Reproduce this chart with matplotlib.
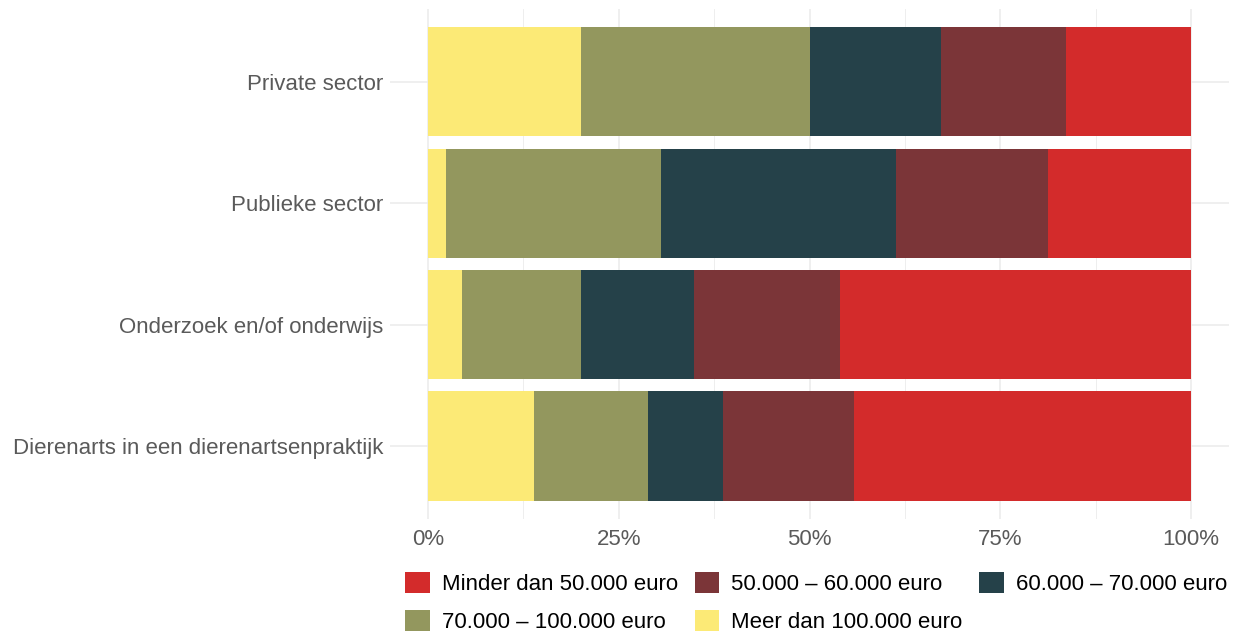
import numpy as np
import matplotlib.pyplot as plt

plt.rcParams['font.family'] = ['Liberation Sans', 'DejaVu Sans']

# categories top to bottom
sectors = ["Private sector", "Publieke sector", "Onderzoek en/of onderwijs",
           "Dierenarts in een dierenartsenpraktijk"]

# shares (%) per income class, same order as sectors
meer_100 = [20.0, 2.4, 4.5, 13.9]
k70_100 = [30.0, 28.1, 15.6, 14.9]
k60_70 = [17.2, 30.8, 14.8, 9.8]
k50_60 = [16.4, 20.0, 19.1, 17.2]
minder_50 = [16.4, 18.7, 46.0, 44.2]

labels = ["Meer dan 100.000 euro", "70.000 – 100.000 euro", "60.000 – 70.000 euro",
          "50.000 – 60.000 euro", "Minder dan 50.000 euro"]
colors = ["#FCEA76", "#93975E", "#254149", "#7B3538", "#D32B2B"]
series = [meer_100, k70_100, k60_70, k50_60, minder_50]

fig = plt.figure(figsize=(12.37, 6.35), dpi=100)
ax = fig.add_axes([390/1237, 1-519/635, (1229-390)/1237, (519-9)/635])

ypos = np.arange(len(sectors))[::-1] + 1  # top category highest
left = np.zeros(len(sectors))
bars = {}
for lab, col, vals in zip(labels, colors, series):
    v = np.array(vals) / 100.0
    bars[lab] = ax.barh(ypos, v, left=left, height=0.9, color=col, label=lab, zorder=2)
    left += v

ax.set_xlim(-0.05, 1.05)
ax.set_ylim(0.4, len(sectors) + 0.6)
ax.set_xticks([0, 0.25, 0.5, 0.75, 1.0])
ax.set_xticklabels(["0%", "25%", "50%", "75%", "100%"])
ax.set_xticks([0.125, 0.375, 0.625, 0.875], minor=True)
ax.set_yticks(ypos)
ax.set_yticklabels(sectors)

ax.grid(True, which='major', color='#EBEBEB', lw=1.1, zorder=0)
ax.grid(True, which='minor', axis='x', color='#EBEBEB', lw=0.6, zorder=0)
for s in ax.spines.values():
    s.set_visible(False)
ax.tick_params(axis='both', which='both', length=0, labelsize=16, labelcolor='#5A5A5A')
ax.tick_params(axis='x', pad=7)
ax.tick_params(axis='y', pad=5)

# legend row-wise like ggplot: reorder for column-major fill
order = ["Minder dan 50.000 euro", "70.000 – 100.000 euro", "50.000 – 60.000 euro",
         "Meer dan 100.000 euro", "60.000 – 70.000 euro"]
handles = [bars[o] for o in order]
fig.legend(handles, order, ncol=3, loc='lower left', bbox_to_anchor=(403/1237, 0.0),
           frameon=False, fontsize=16, handlelength=1.1, handleheight=1.1,
           columnspacing=0.75, handletextpad=0.55, labelspacing=0.65,
           borderaxespad=0.0, borderpad=0.1)

plt.savefig("out.png", dpi=100)
